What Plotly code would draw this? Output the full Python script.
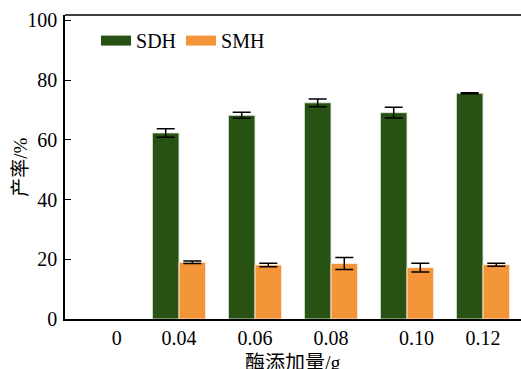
import plotly.graph_objects as go

# ---- data ----
categories = ["0", "0.04", "0.06", "0.08", "0.10", "0.12"]
series_names = ["SDH", "SMH"]
sdh_values = [None, 62.3, 68.2, 72.4, 69.1, 75.6]
sdh_errors = [None, 1.4, 1.0, 1.3, 1.8, 0.2]
smh_values = [None, 19.0, 18.1, 18.6, 17.2, 18.2]
smh_errors = [None, 0.4, 0.6, 2.0, 1.5, 0.5]
y_ticks = [0, 20, 40, 60, 80, 100]
x_title = "酶添加量/g"
y_title = "产率/%"

# ---- style ----
GREEN = "#275213"
ORANGE = "#f39538"
FONT = "Liberation Serif, Noto Sans CJK SC, serif"
label_shift = [0.18, 0, 0, 0, 0.125, 0]  # reference tick labels sit slightly off-centre

xpos = list(range(len(categories)))

fig = go.Figure()
for name, vals, errs, col, edge in [
    (series_names[0], sdh_values, sdh_errors, GREEN, "rgba(220,230,215,0.9)"),
    (series_names[1], smh_values, smh_errors, ORANGE, "rgba(255,235,215,0.9)"),
]:
    fig.add_trace(go.Bar(
        name=name, x=xpos, y=vals, showlegend=False, legendgroup=name,
        marker=dict(color=col, line=dict(color=edge, width=1)),
        error_y=dict(type="data", array=errs, color="black", thickness=1.5, width=9),
    ))
# legend entries with wide rectangular swatches
for name, col in [(series_names[0], GREEN), (series_names[1], ORANGE)]:
    fig.add_trace(go.Scatter(
        name=name, x=[None], y=[None], mode="lines", legendgroup=name,
        line=dict(color=col, width=13), hoverinfo="skip",
    ))

fig.update_layout(
    width=521, height=369,
    margin=dict(l=65, r=0, t=15, b=50),
    paper_bgcolor="white", plot_bgcolor="white",
    barmode="group", bargap=0.3, bargroupgap=0,
    font=dict(family=FONT, size=20, color="black"),
    showlegend=True,
    legend=dict(orientation="h", x=0.068, y=0.98, xanchor="left", yanchor="top",
                bgcolor="rgba(0,0,0,0)", font=dict(size=20), itemwidth=30,
                traceorder="normal"),
    shapes=[dict(type="line", xref="paper", yref="paper", x0=0, x1=1, y0=1, y1=1,
                 line=dict(color="black", width=1.5))],
    annotations=[
        dict(text=x_title, xref="paper", yref="paper", x=0.5, y=-0.145,
             xanchor="center", yanchor="middle", showarrow=False,
             font=dict(size=20)),
        dict(text=y_title, xref="paper", yref="paper", x=-0.099, y=0.5,
             xanchor="center", yanchor="middle", showarrow=False, textangle=-90,
             font=dict(size=19)),
    ],
)
fig.update_xaxes(
    range=[-0.5, len(categories) - 0.5],
    tickvals=[p + s for p, s in zip(xpos, label_shift)],
    ticktext=categories,
    ticks="", showgrid=False, zeroline=False,
    showline=True, linecolor="black", linewidth=1.5, mirror=False,
    ticklabelstandoff=0,
    automargin=False,
)
fig.update_yaxes(
    range=[0, 101.8],
    tickvals=y_ticks,
    ticks="inside", ticklen=6, tickwidth=1.2, tickcolor="black",
    showgrid=False, zeroline=False,
    showline=True, linecolor="black", linewidth=1.5, mirror=False,
    ticklabelstandoff=2,
    automargin=False,
)

fig.write_html("out.html")
